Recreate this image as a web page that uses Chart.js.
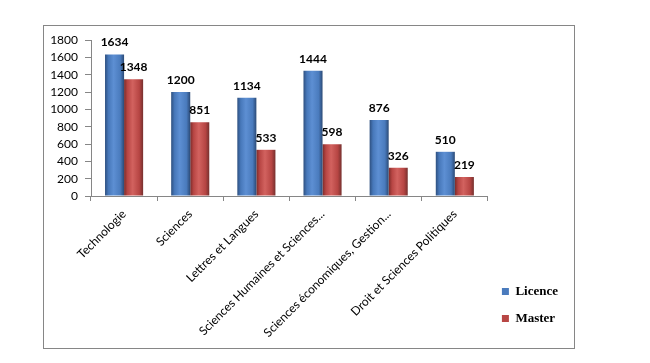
<!DOCTYPE html>
<html>
<head>
<meta charset="utf-8">
<script src="https://cdn.jsdelivr.net/npm/chart.js@4.4.1/dist/chart.umd.min.js"></script>
<style>
  html, body { margin: 0; padding: 0; background: #fff; }
  #wrap { position: relative; width: 650px; height: 363px; }
</style>
</head>
<body>
<div id="wrap"><canvas id="c" width="650" height="363"></canvas></div>
<script>
const categories = [
  "Technologie",
  "Sciences",
  "Lettres et Langues",
  "Sciences Humaines et Sciences...",
  "Sciences économiques, Gestion...",
  "Droit et Sciences Politiques"
];
const licence = [1634, 1200, 1134, 1444, 876, 510];
const master = [1348, 851, 533, 598, 326, 219];
const yTicks = [0, 200, 400, 600, 800, 1000, 1200, 1400, 1600, 1800];

const CAT_PCT = 0.576;
const AXIS_COLOR = '#868686';

const blueStops = ['#2e5080', '#4778ba', '#5d8fd3', '#4a7bbd', '#2b4a76'];
const redStops = ['#7c2b29', '#b84644', '#d2625f', '#b64543', '#76302e'];

function barGradient(context, stops, dsIndex) {
  const chart = context.chart;
  const xs = chart.scales && chart.scales.x;
  if (!xs || context.dataIndex === undefined || !isFinite(xs.width) || xs.width <= 0) return stops[2];
  const catW = xs.width / categories.length;
  const bw = catW * CAT_PCT / 2;
  const c = xs.getPixelForValue(context.dataIndex);
  const left = c - bw + dsIndex * bw;
  const g = chart.ctx.createLinearGradient(left, 0, left + bw, 0);
  g.addColorStop(0, stops[0]);
  g.addColorStop(0.18, stops[1]);
  g.addColorStop(0.45, stops[2]);
  g.addColorStop(0.8, stops[3]);
  g.addColorStop(1, stops[4]);
  return g;
}

const frame = {
  id: 'frame',
  beforeDraw(chart) {
    const ctx = chart.ctx;
    ctx.save();
    ctx.fillStyle = '#fff';
    ctx.fillRect(0, 0, chart.width, chart.height);
    ctx.strokeStyle = AXIS_COLOR;
    ctx.lineWidth = 1;
    ctx.strokeRect(43.5, 25.5, 531, 323);
    ctx.restore();
  }
};

const valueLabels = {
  id: 'valueLabels',
  afterDatasetsDraw(chart) {
    const ctx = chart.ctx;
    ctx.save();
    ctx.font = 'bold 12px Lato';
    ctx.fillStyle = '#000';
    ctx.textAlign = 'center';
    ctx.textBaseline = 'middle';
    chart.data.datasets.forEach((ds, di) => {
      const meta = chart.getDatasetMeta(di);
      meta.data.forEach((el, i) => {
        ctx.fillText(String(ds.data[i]), el.x, el.y - 12);
      });
    });
    ctx.restore();
  }
};

new Chart(document.getElementById('c'), {
  type: 'bar',
  data: {
    labels: categories,
    datasets: [
      {
        label: 'Licence',
        data: licence,
        backgroundColor: (ctx) => barGradient(ctx, blueStops, 0),
        borderWidth: 0,
        categoryPercentage: CAT_PCT,
        barPercentage: 1.0
      },
      {
        label: 'Master',
        data: master,
        backgroundColor: (ctx) => barGradient(ctx, redStops, 1),
        borderWidth: 0,
        categoryPercentage: CAT_PCT,
        barPercentage: 1.0
      }
    ]
  },
  options: {
    responsive: false,
    animation: false,
    events: [],
    layout: { padding: { left: 50, top: 40, right: 82, bottom: 24 } },
    plugins: {
      tooltip: { enabled: false },
      legend: {
        position: 'right',
        align: 'end',
        labels: {
          boxWidth: 7,
          boxHeight: 7,
          padding: 14,
          color: '#000',
          font: { family: 'Liberation Serif', size: 13, weight: 'bold' },
          generateLabels(chart) {
            const fills = ['#4a7bbd', '#b84644'];
            return chart.data.datasets.map((ds, i) => ({
              text: ds.label,
              fillStyle: fills[i],
              strokeStyle: fills[i],
              lineWidth: 0,
              hidden: false,
              datasetIndex: i,
              fontColor: '#000'
            }));
          }
        }
      }
    },
    scales: {
      x: {
        grid: {
          offset: true,
          drawOnChartArea: false,
          drawTicks: true,
          tickLength: 5,
          color: AXIS_COLOR
        },
        border: { color: AXIS_COLOR },
        ticks: {
          autoSkip: false,
          maxRotation: 45,
          minRotation: 45,
          color: '#000',
          font: { family: 'Lato', size: 12 },
          padding: 6
        },
        afterFit(scale) { scale.height = 143; }
      },
      y: {
        min: 0,
        max: 1800,
        grid: {
          drawOnChartArea: false,
          drawTicks: true,
          tickLength: 6,
          color: AXIS_COLOR
        },
        border: { color: AXIS_COLOR },
        afterBuildTicks(scale) { scale.ticks = yTicks.map(v => ({ value: v })); },
        ticks: {
          autoSkip: false,
          color: '#000',
          font: { family: 'Lato', size: 12 },
          padding: 7,
          callback: (v) => String(v)
        },
        afterFit(scale) { scale.width = 41; }
      }
    }
  },
  plugins: [frame, valueLabels]
});
</script>
</body>
</html>
